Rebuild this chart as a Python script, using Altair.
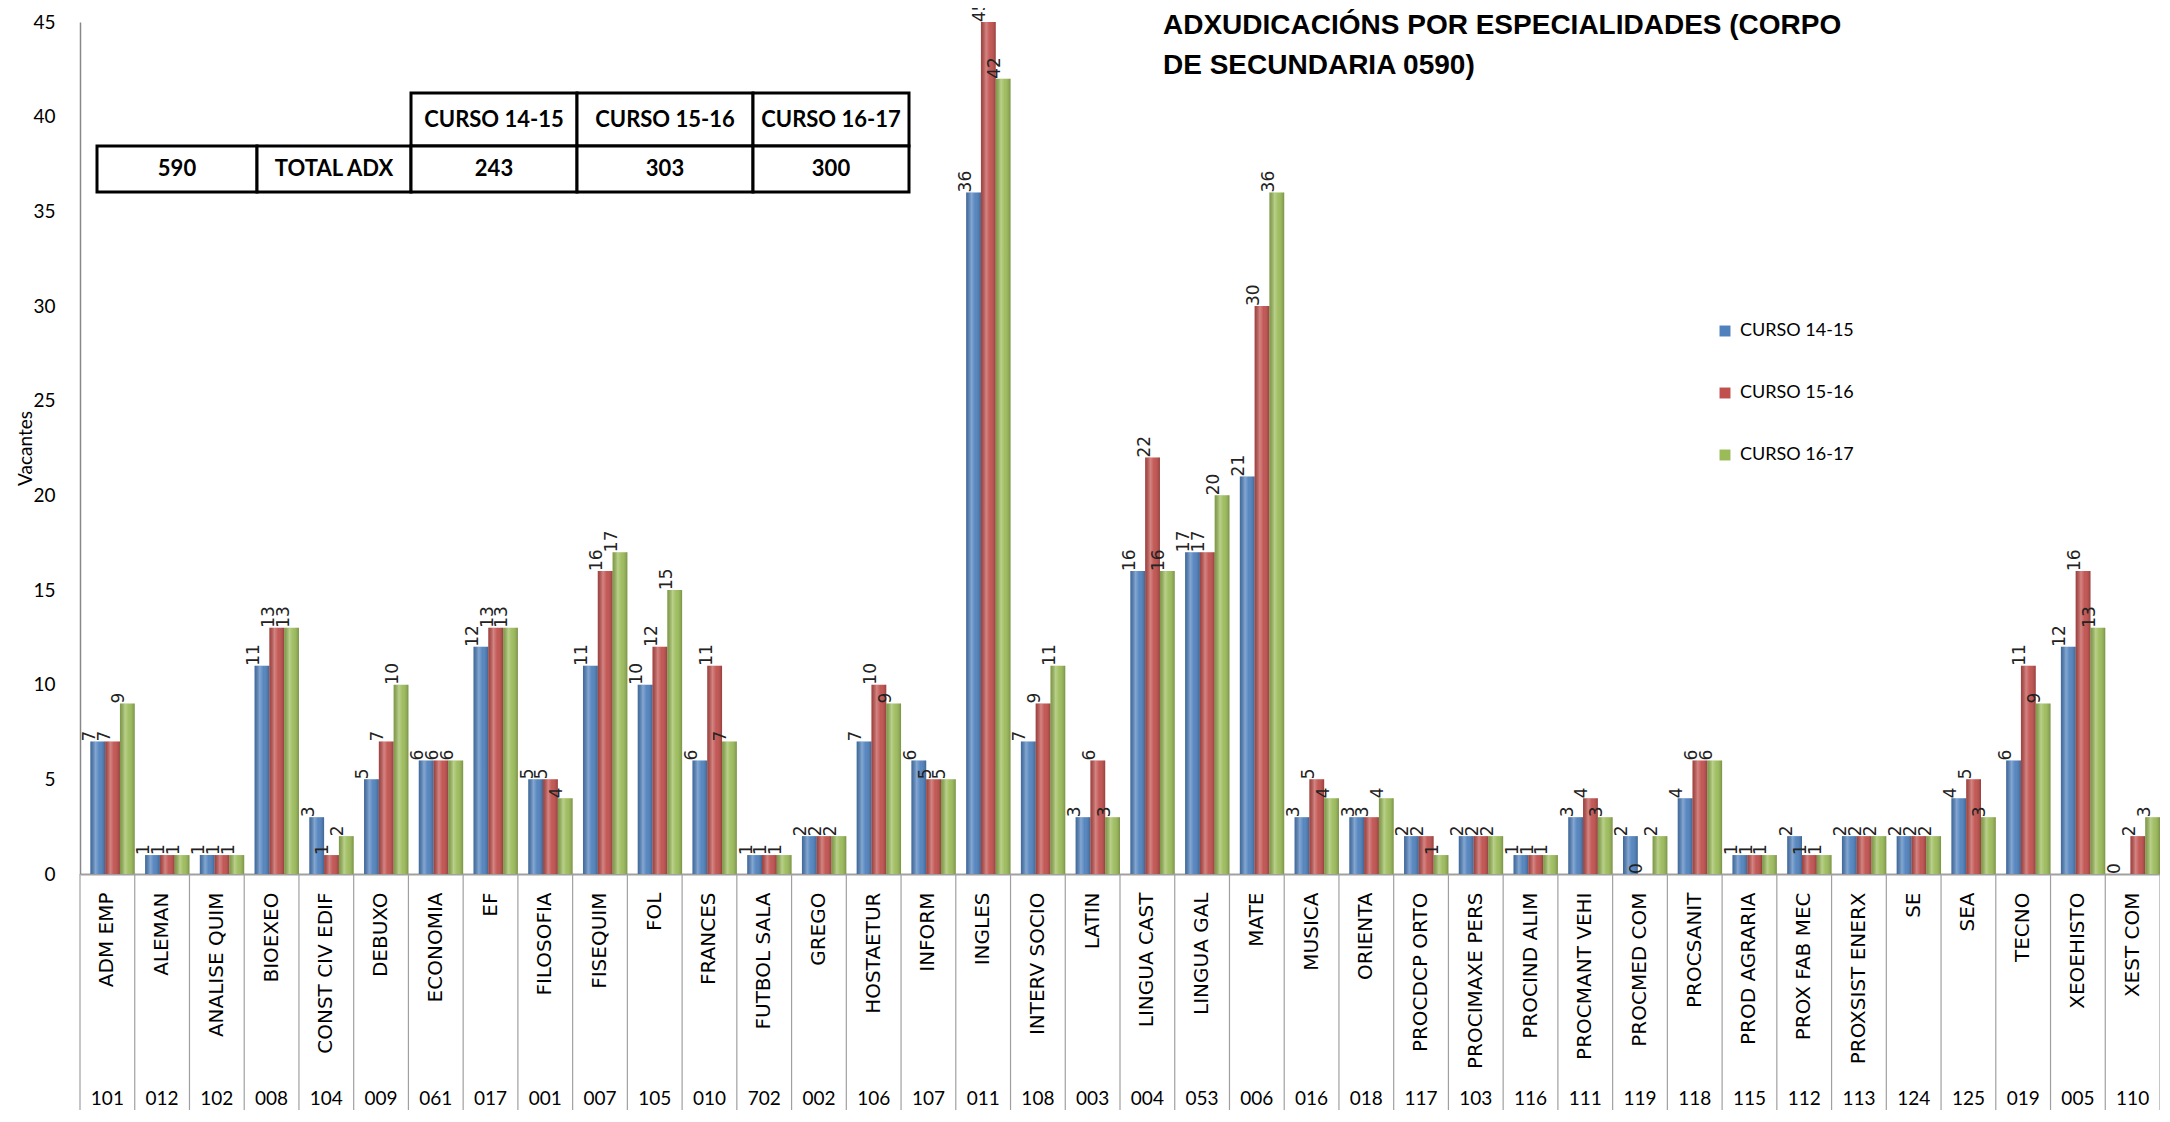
import altair as alt
import pandas as pd

categories = ["ADM EMP", "ALEMAN", "ANALISE QUIM", "BIOEXEO", "CONST CIV EDIF", "DEBUXO",
              "ECONOMIA", "EF", "FILOSOFIA", "FISEQUIM", "FOL", "FRANCES", "FUTBOL SALA",
              "GREGO", "HOSTAETUR", "INFORM", "INGLES", "INTERV SOCIO", "LATIN", "LINGUA CAST",
              "LINGUA GAL", "MATE", "MUSICA", "ORIENTA", "PROCDCP ORTO", "PROCIMAXE PERS",
              "PROCIND ALIM", "PROCMANT VEHI", "PROCMED COM", "PROCSANIT", "PROD AGRARIA",
              "PROX FAB MEC", "PROXSIST ENERX", "SE", "SEA", "TECNO", "XEOEHISTO", "XEST COM"]
codes = ["101", "012", "102", "008", "104", "009", "061", "017", "001", "007", "105", "010",
         "702", "002", "106", "107", "011", "108", "003", "004", "053", "006", "016", "018",
         "117", "103", "116", "111", "119", "118", "115", "112", "113", "124", "125", "019",
         "005", "110"]
series = ["CURSO 14-15", "CURSO 15-16", "CURSO 16-17"]
curso_14_15 = [7, 1, 1, 11, 3, 5, 6, 12, 5, 11, 10, 6, 1, 2, 7, 6, 36, 7, 3, 16, 17, 21, 3, 3,
               2, 2, 1, 3, 2, 4, 1, 2, 2, 2, 4, 6, 12, 0]
curso_15_16 = [7, 1, 1, 13, 1, 7, 6, 13, 5, 16, 12, 11, 1, 2, 10, 5, 45, 9, 6, 22, 17, 30, 5, 3,
               2, 2, 1, 4, 0, 6, 1, 1, 2, 2, 5, 11, 16, 2]
curso_16_17 = [9, 1, 1, 13, 2, 10, 6, 13, 4, 17, 15, 7, 1, 2, 9, 5, 42, 11, 3, 16, 20, 36, 4, 4,
               1, 2, 1, 3, 2, 6, 1, 1, 2, 2, 3, 9, 13, 3]
colors = ["#4F81BD", "#C0504D", "#9BBB59"]

table_row1 = ["", "", "CURSO 14-15", "CURSO 15-16", "CURSO 16-17"]
table_row2 = ["590", "TOTAL ADX", "243", "303", "300"]
title_lines = ["ADXUDICACIÓNS  POR ESPECIALIDADES (CORPO", "DE SECUNDARIA  0590)"]

# ---- layout (pixels, plot-relative) ----
W, H = 2080, 852
col_edges = [17, 177, 331, 497, 673, 829]
row_edges = [71, 124, 170]

rows = []
for vals, s in zip([curso_14_15, curso_15_16, curso_16_17], series):
    for c, v in zip(categories, vals):
        rows.append({"cat": c, "series": s, "value": v})
df = pd.DataFrame(rows)
cat_df = pd.DataFrame({"cat": categories, "code": codes})

cells = []
for r, row in enumerate([table_row1, table_row2]):
    for c, t in enumerate(row):
        if r == 0 and c < 2:
            continue
        cells.append({"x0": col_edges[c], "x1": col_edges[c + 1],
                      "y0": row_edges[r], "y1": row_edges[r + 1],
                      "xm": (col_edges[c] + col_edges[c + 1]) / 2,
                      "ym": (row_edges[r] + row_edges[r + 1]) / 2,
                      "t": t})
cells_df = pd.DataFrame(cells)

xscale = alt.Scale(domain=categories, paddingInner=0, paddingOuter=0)
xaxis = alt.Axis(orient="bottom", title=None, labelAngle=270, labelAlign="right",
                 labelBaseline="middle", labelPadding=18, ticks=False,
                 domainColor="#A0A0A0", domainWidth=2,
                 labelFont="DejaVu Sans", labelFontSize=20, labelLimit=400,
                 labelColor="black")
xoff = alt.XOffset("series:N", sort=series,
                   scale=alt.Scale(domain=series, paddingInner=0, paddingOuter=0.35, align=1))
yscale = alt.Scale(domain=[0, 45], nice=False)
yaxis = alt.Axis(orient="left", values=list(range(0, 46, 5)), title="Vacantes", grid=False,
                 ticks=False, labelPadding=25, labelFont="Lato", labelFontSize=19,
                 labelColor="black", titleFont="Lato", titleFontSize=19,
                 titleFontWeight="normal", titleColor="black",
                 titleX=-55, titleY=H / 2, titleAngle=270, titleAlign="center",
                 titleBaseline="middle",
                 domainColor="#888888", domainWidth=1.5)


def xcat(**kw):
    return alt.X("cat:N", sort=categories, scale=xscale, axis=xaxis, **kw)


def yval():
    return alt.Y("value:Q", scale=yscale, axis=yaxis)


base = alt.Chart(df)

bars = base.mark_bar().encode(
    x=xcat(),
    xOffset=xoff,
    y=yval(),
    color=alt.Color("series:N", sort=series,
                    scale=alt.Scale(domain=series, range=colors),
                    legend=alt.Legend(title=None, orient="none", legendX=1636, legendY=300,
                                      direction="vertical", rowPadding=44, symbolType="square",
                                      symbolSize=120, symbolStrokeWidth=0, labelFont="Lato",
                                      labelFontSize=18, labelColor="black", labelOffset=6)),
)

shine = base.mark_bar(
    color=alt.Gradient(gradient="linear", x1=0, x2=1, y1=0, y2=0,
                       stops=[alt.GradientStop(color="rgba(0,0,0,0.18)", offset=0),
                              alt.GradientStop(color="rgba(255,255,255,0.30)", offset=0.35),
                              alt.GradientStop(color="rgba(255,255,255,0.05)", offset=0.6),
                              alt.GradientStop(color="rgba(0,0,0,0.22)", offset=1)])
).encode(x=xcat(), xOffset=xoff, y=yval())

labels = base.mark_text(angle=270, align="left", baseline="middle", dy=-8,
                        font="DejaVu Sans", fontSize=17, color="#222222").encode(
    x=xcat(), xOffset=xoff, y=yval(), text="value:Q")

cat_base = alt.Chart(cat_df)
dividers = cat_base.mark_rule(color="#A0A0A0", strokeWidth=1.2).encode(
    x=xcat(bandPosition=0), y=alt.value(H), y2=alt.value(H + 260))
last_div = alt.Chart(cat_df.tail(1)).mark_rule(color="#A0A0A0", strokeWidth=1.2).encode(
    x=xcat(bandPosition=1), y=alt.value(H), y2=alt.value(H + 260))
code_text = cat_base.mark_text(font="Lato", fontSize=19, color="black", baseline="middle").encode(
    x=xcat(), y=alt.value(H + 225), text="code:N")

cells_base = alt.Chart(cells_df)
table_rect = cells_base.mark_rect(fill="white", stroke="black", strokeWidth=3).encode(
    x=alt.X("x0:Q", scale=None, axis=None), x2="x1:Q",
    y=alt.Y("y0:Q", scale=None, axis=None), y2="y1:Q")
table_text = cells_base.mark_text(font="Lato", fontSize=22, fontWeight="bold", color="black",
                                  baseline="middle").encode(
    x=alt.X("xm:Q", scale=None, axis=None), y=alt.Y("ym:Q", scale=None, axis=None), text="t:N")

title = alt.Chart(pd.DataFrame({"k": [0]})).mark_text(
    text=title_lines, align="left", baseline="top", lineHeight=40, font="Liberation Sans",
    fontSize=28, fontWeight="bold", color="black").encode(x=alt.value(1083), y=alt.value(-10))

chart = alt.layer(bars, shine, labels, dividers, last_div, code_text, table_rect, table_text,
                  title).properties(
    width=W, height=H,
    background="white",
    autosize=alt.AutoSizeParams(type="none"),
    padding={"left": 72, "top": 14, "right": 0, "bottom": 236},
).configure_view(stroke="transparent", strokeWidth=0)

chart.save("out.html", embed_options={"renderer": "svg", "actions": False})
